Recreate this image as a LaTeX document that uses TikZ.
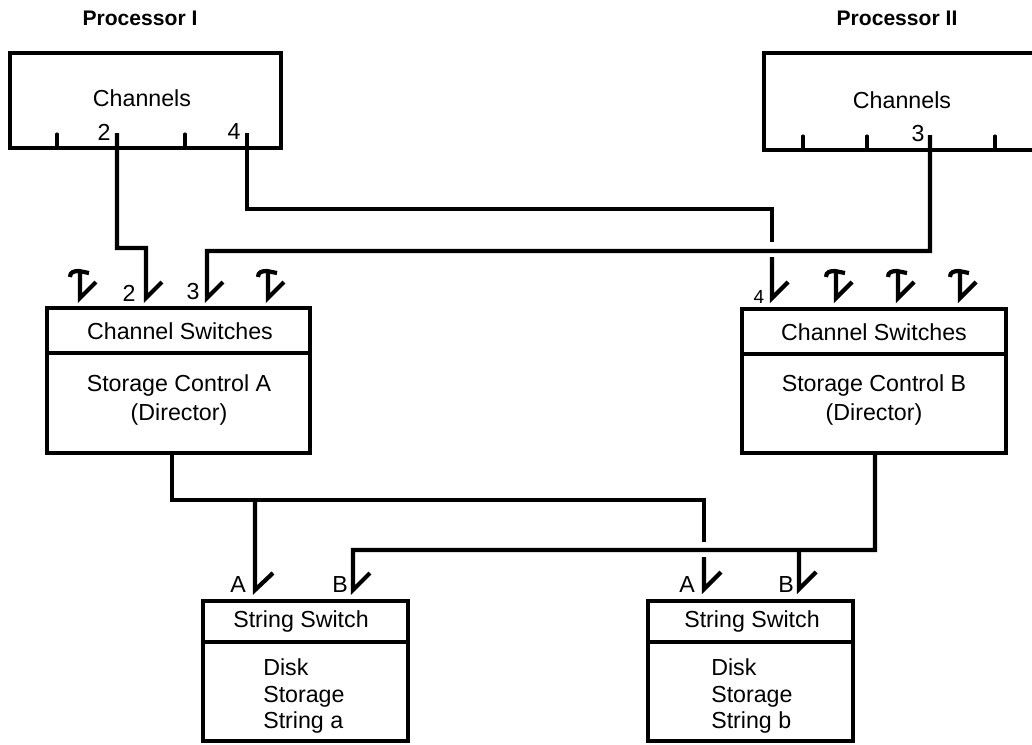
\documentclass[tikz,border=0pt]{standalone}
\usepackage{fontspec}
\setmainfont{Liberation Sans}
\usetikzlibrary{positioning}

\begin{document}
\begin{tikzpicture}[x=0.025cm,y=-0.025cm,line join=miter,
  box/.style={line width=2.2pt},
  wire/.style={line width=3pt},
  tick/.style={line width=2.2pt,line cap=round},
  txt/.style={font=\fontsize{16.5}{19}\selectfont,inner sep=0pt},
  head/.style={font=\fontsize{15}{17}\selectfont\bfseries,inner sep=0pt},
  small/.style={font=\fontsize{13.5}{15}\selectfont,inner sep=0pt},
  opensw/.pic={
    \draw[wire] (-10,-21) .. controls (-10,-26) and (-6,-27) .. (-1,-27) -- (9,-25);
    \draw[wire] (0,-27) -- (0,0) -- (16,-16);}]
\useasboundingbox (0,0) rectangle (1032,744);

\node[head] (procI) at (140,18) {Processor I};
\node[head] (procII) at (897,18) {Processor II};

\draw[box] (10,53) rectangle (281,148);
\node[txt] (chI) at (142,98) {Channels};
\draw[box] (1036,53) -- (764,53) -- (764,150) -- (1036,150);
\node[txt] (chII) at (902,100) {Channels};

\foreach \x in {57,185} \draw[tick] (\x,134) -- (\x,148);
\foreach \x in {803,867,995} \draw[tick] (\x,136) -- (\x,150);
\coordinate (p2) at (117,133);
\coordinate (p4) at (247,133);
\coordinate (q3) at (930,135);
\node[txt] (l2) at (104,132) {2};
\node[txt] (l4) at (234,132) {4};
\node[txt] (l3) at (918,134) {3};

\coordinate (s2) at (146,298);
\coordinate (s3) at (207,298);
\coordinate (b4) at (772,242);
\coordinate (t4) at (772,257);
\coordinate (s4) at (772,298);

\draw[wire] (p2) -- ++(0,115) -| (s2) -- ++(16,-16);
\draw[wire] (q3) -- ++(0,116) -| (s3) -- ++(16,-16);
\draw[wire] (p4) -- ++(0,76) -| (b4);
\draw[wire] (t4) -- (s4) -- ++(16,-16);

\pic at (80,298) {opensw};
\pic at (268,298) {opensw};
\pic at (836,298) {opensw};
\pic at (898,298) {opensw};
\pic at (960,298) {opensw};

\node[txt] (n2) at (129,293) {2};
\node[txt] (n3) at (193,292) {3};
\node[small] (n4) at (759,297) {4};

\draw[box] (47,308) rectangle (310,453);
\draw[box] (47,353) -- (310,353);
\node[txt] (swA) at (180,331) {Channel Switches};
\node[txt,align=center,font=\fontsize{16.5}{21}\selectfont] (scAt) at (179,400) {Storage Control A\\(Director)};

\draw[box] (742,309) rectangle (1006,453);
\draw[box] (742,354) -- (1006,354);
\node[txt] (swB) at (874,332) {Channel Switches};
\node[txt,align=center,font=\fontsize{16.5}{21}\selectfont] (scBt) at (874,400) {Storage Control B\\(Director)};

\coordinate (scA) at (172,453);
\coordinate (scB) at (875,453);
\coordinate (jA) at (255,500);
\coordinate (jB) at (799,550);
\coordinate (aA) at (255,590);
\coordinate (aB) at (353,590);
\coordinate (bA) at (704,542);
\coordinate (tA) at (704,557);
\coordinate (bAs) at (704,589);
\coordinate (bB) at (799,589);

\draw[wire] (scA) -- ++(0,47) -| (bA);
\draw[wire] (jA) -- (aA) -- ++(18,-17);
\draw[wire] (scB) -- ++(0,97) -| (aB) -- ++(17,-17);
\draw[wire] (jB) -- (bB) -- ++(17,-17);
\draw[wire] (tA) -- (bAs) -- ++(17,-17);

\node[txt] (la1) at (238,585) {A};
\node[txt] (lb1) at (340,585) {B};
\node[txt] (la2) at (687,585) {A};
\node[txt] (lb2) at (786,585) {B};

\draw[box] (203,601) rectangle (408,741);
\draw[box] (203,642) -- (408,642);
\node[txt] (ssa) at (301,621) {String Switch};
\node[txt,align=left,anchor=west] (dska) at (263,696) {Disk\\Storage\\String a};

\draw[box] (648,601) rectangle (853,741);
\draw[box] (648,642) -- (853,642);
\node[txt] (ssb) at (752,621) {String Switch};
\node[txt,align=left,anchor=west] (dskb) at (711,696) {Disk\\Storage\\String b};
\end{tikzpicture}
\end{document}
